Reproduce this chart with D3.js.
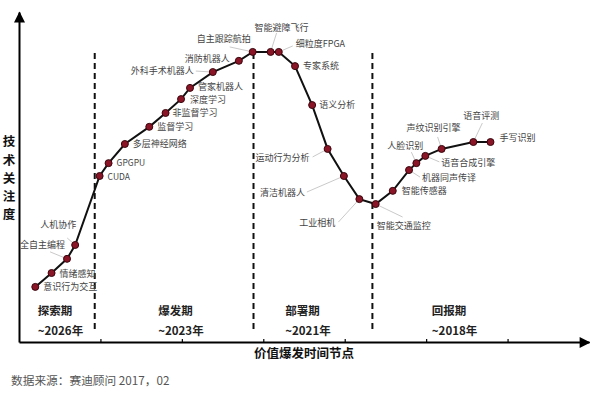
<!DOCTYPE html>
<html>
<head>
<meta charset="utf-8">
<title>技术关注度</title>
<style>
  body { margin: 0; background: #fff; }
  svg { display: block; font-family: "Noto Sans CJK SC", "Noto Sans", sans-serif; }
  .lbl { font-size: 9px; fill: #444; }
  .lead { stroke: #bbb; stroke-width: 0.8; fill: none; }
  .phase { font-size: 11.5px; font-weight: bold; fill: #222; }
  .ttl { font-size: 12.5px; font-weight: bold; fill: #111; }
  .src { font-size: 11.7px; fill: #555; }
</style>
<script src="https://cdn.jsdelivr.net/npm/d3@7"></script>
</head>
<body>
<svg width="590" height="393"></svg>
<script>
// technologies along the curve
var names = ["意识行为交互","情绪感知","全自主编程","人机协作","CUDA","GPGPU","多层神经网络","监督学习",
  "非监督学习","深度学习","管家机器人","外科手术机器人","消防机器人","自主跟踪航拍","智能避障飞行","细粒度FPGA",
  "专家系统","语义分析","运动行为分析","清洁机器人","工业相机","智能交通监控","智能传感器","机器同声传译",
  "人脸识别","语音合成引擎","声纹识别引擎","语音评测","手写识别"];
// time position (x) and attention (y, 0-100)
var timeVals = [0.20,0.40,0.59,0.69,0.99,1.10,1.30,1.60,1.80,1.99,2.10,2.38,2.70,2.87,3.09,3.19,
  3.39,3.60,3.79,3.99,4.18,4.38,4.59,4.79,4.88,4.99,5.19,5.58,5.79];
var attention = [16.7,20.9,25.2,29.4,50.3,54.2,60.0,65.2,69.4,73.6,77.0,81.8,85.2,87.9,87.9,87.9,
  83.6,71.8,58.5,50.3,43.3,41.8,45.8,52.1,54.2,56.4,58.5,60.6,60.6];

var phases = ["探索期","爆发期","部署期","回报期"];
var phaseYears = ["~2026年","~2023年","~2021年","~2018年"];
var phaseStart = [0.23, 1.71, 3.27, 5.07];
var dividers = [0.93, 2.88, 4.34];
var ticks = [1, 2, 3, 4, 5, 6];

// label layout: [dx, dy, anchor, leaderDx, leaderDy]
var labelLayout = [
  [8,0,"start"],[8,1,"start"],[-47,-14,"start",-17,-7],[-35,-20,"start",-8,-7],
  [8,1,"start"],[8,0,"start"],[8,0,"start"],[8,0,"start"],
  [7,0,"start"],[9,0.5,"start"],[8,-1.5,"start"],[-19,-1,"end",-17,-1],
  [-9,-2,"end"],[-56,-13,"start",-23,-5],[-16,-24,"start",6,-19],[17,-8,"start",14,-6],
  [8,0,"start"],[7,0,"start"],[-18,9,"end",-15,8],[-39,17,"end",-37,16],
  [-24,24,"end",-21,23],[1,22,"start",27,13],[9,0,"start"],[13,8,"start",11,7],
  [-29,-17,"start",-5,-11],[16,7,"start",14,6],[-35,-21,"start",-4,-12],[-10,-26,"start",9,-19],
  [9,-4,"start",3,-3]
];

var svg = d3.select("svg");
var x = d3.scaleLinear().domain([0, 7]).range([19, 589]);
var y = d3.scaleLinear().domain([0, 100]).range([342, 12]);

var defs = svg.append("defs");
defs.append("marker").attr("id","arr").attr("viewBox","0 0 10 10")
  .attr("refX", 9).attr("refY", 5).attr("markerWidth", 6).attr("markerHeight", 5.5)
  .attr("markerUnits","strokeWidth").attr("orient","auto")
  .append("path").attr("d","M0,0L10,5L0,10Z").attr("fill","#000");

// x axis
var gx = svg.append("g").attr("transform","translate(0," + y(0) + ")")
  .call(d3.axisTop(x).tickValues(ticks).tickSize(3).tickSizeOuter(0).tickFormat(""));
gx.select(".domain").attr("stroke","#000").attr("stroke-width",2).attr("marker-end","url(#arr)");
gx.selectAll(".tick line").attr("stroke","#000").attr("stroke-width",1.2);

// y axis
var gy = svg.append("g").attr("transform","translate(" + x(0) + ",0)")
  .call(d3.axisRight(y).tickValues([]).tickSizeOuter(0));
gy.select(".domain").attr("stroke","#000").attr("stroke-width",2).attr("marker-end","url(#arr)");

// phase dividers
svg.selectAll(".div").data(dividers).enter().append("line")
  .attr("x1", d => x(d)).attr("x2", d => x(d))
  .attr("y1", y(87.6)).attr("y2", y(2.7))
  .attr("stroke","#111").attr("stroke-width",2).attr("stroke-dasharray","6,4");

// phase labels
svg.selectAll(".ph").data(phases).enter().append("text").attr("class","phase")
  .attr("x", (d,i) => x(phaseStart[i])).attr("y", y(9.3)).attr("dy","0.35em").text(d => d);
svg.selectAll(".py").data(phaseYears).enter().append("text").attr("class","phase")
  .attr("x", (d,i) => x(phaseStart[i])).attr("y", y(3.3)).attr("dy","0.35em").text(d => d);

var pts = names.map((n,i) => ({name:n, t:timeVals[i], a:attention[i], lay:labelLayout[i]}));

// leader lines
svg.selectAll(".lead").data(pts.filter(d => d.lay.length > 3)).enter().append("line")
  .attr("class","lead")
  .attr("x1", d => x(d.t)).attr("y1", d => y(d.a))
  .attr("x2", d => x(d.t) + d.lay[3]).attr("y2", d => y(d.a) + d.lay[4]);

// curve
var line = d3.line().x(d => x(d.t)).y(d => y(d.a));
svg.append("path").datum(pts).attr("d", line)
  .attr("fill","none").attr("stroke","#111").attr("stroke-width",2);

svg.selectAll(".pt").data(pts).enter().append("circle")
  .attr("cx", d => x(d.t)).attr("cy", d => y(d.a)).attr("r",3.5)
  .attr("fill","#8a1526").attr("stroke","#3a060d").attr("stroke-width",1);

svg.selectAll(".lbl").data(pts).enter().append("text").attr("class","lbl")
  .attr("x", d => x(d.t) + d.lay[0]).attr("y", d => y(d.a) + d.lay[1])
  .attr("dy","0.35em").attr("text-anchor", d => d.lay[2])
  .style("font-size", d => /^[A-Z]/.test(d.name) ? "8.5px" : null)
  .text(d => d.name);

// titles
var yTitle = "技术关注度".split("");
svg.selectAll(".yt").data(yTitle).enter().append("text").attr("class","ttl")
  .attr("x", 9).attr("y", (d,i) => 142 + i * 18.2).attr("dy","0.35em")
  .attr("text-anchor","middle").text(d => d);

svg.append("text").attr("class","ttl").attr("x", 304).attr("y", 354).attr("dy","0.35em")
  .attr("text-anchor","middle").text("价值爆发时间节点");

svg.append("text").attr("class","src").attr("x", 11).attr("y", 381).attr("dy","0.35em")
  .text("数据来源：赛迪顾问 2017，02");
</script>
</body>
</html>
